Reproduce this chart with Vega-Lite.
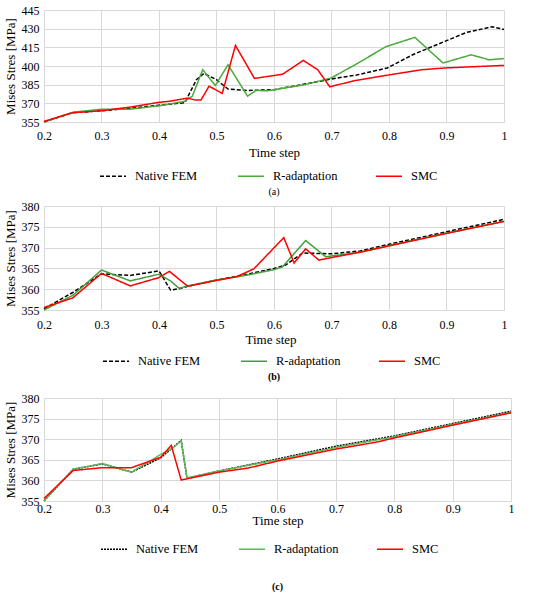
{
  "$schema": "https://vega.github.io/schema/vega-lite/v6.json",
  "description": "Mises stress over time step for Native FEM, R-adaptation and SMC, three cases (a), (b), (c)",
  "padding": {"top": 4, "left": 4, "right": 30, "bottom": 0},
  "background": "white",
  "datasets": {
    "a": [
      {"series": "Native FEM", "t": 0.2, "stress": 355},
      {"series": "Native FEM", "t": 0.25, "stress": 362.5},
      {"series": "Native FEM", "t": 0.3, "stress": 364},
      {"series": "Native FEM", "t": 0.35, "stress": 366},
      {"series": "Native FEM", "t": 0.4, "stress": 368.5},
      {"series": "Native FEM", "t": 0.445, "stress": 370.5},
      {"series": "Native FEM", "t": 0.465, "stress": 389},
      {"series": "Native FEM", "t": 0.478, "stress": 394},
      {"series": "Native FEM", "t": 0.5, "stress": 389},
      {"series": "Native FEM", "t": 0.52, "stress": 381.5},
      {"series": "Native FEM", "t": 0.555, "stress": 380.3},
      {"series": "Native FEM", "t": 0.6, "stress": 381},
      {"series": "Native FEM", "t": 0.643, "stress": 384.5},
      {"series": "Native FEM", "t": 0.7, "stress": 389.6},
      {"series": "Native FEM", "t": 0.744, "stress": 392.8},
      {"series": "Native FEM", "t": 0.797, "stress": 398.4},
      {"series": "Native FEM", "t": 0.841, "stress": 409},
      {"series": "Native FEM", "t": 0.896, "stress": 419.6},
      {"series": "Native FEM", "t": 0.935, "stress": 427},
      {"series": "Native FEM", "t": 0.979, "stress": 431.5},
      {"series": "Native FEM", "t": 1.0, "stress": 429.4},
      {"series": "R-adaptation", "t": 0.2, "stress": 355},
      {"series": "R-adaptation", "t": 0.25, "stress": 362.8},
      {"series": "R-adaptation", "t": 0.3, "stress": 365.3},
      {"series": "R-adaptation", "t": 0.35, "stress": 365.3},
      {"series": "R-adaptation", "t": 0.4, "stress": 368},
      {"series": "R-adaptation", "t": 0.444, "stress": 371.5},
      {"series": "R-adaptation", "t": 0.458, "stress": 375.8},
      {"series": "R-adaptation", "t": 0.476, "stress": 397},
      {"series": "R-adaptation", "t": 0.498, "stress": 384.3},
      {"series": "R-adaptation", "t": 0.52, "stress": 401},
      {"series": "R-adaptation", "t": 0.554, "stress": 375.8},
      {"series": "R-adaptation", "t": 0.569, "stress": 380.4},
      {"series": "R-adaptation", "t": 0.588, "stress": 380},
      {"series": "R-adaptation", "t": 0.61, "stress": 381.7},
      {"series": "R-adaptation", "t": 0.654, "stress": 385},
      {"series": "R-adaptation", "t": 0.7, "stress": 390.5},
      {"series": "R-adaptation", "t": 0.741, "stress": 401},
      {"series": "R-adaptation", "t": 0.795, "stress": 415.6},
      {"series": "R-adaptation", "t": 0.845, "stress": 423},
      {"series": "R-adaptation", "t": 0.894, "stress": 402.4},
      {"series": "R-adaptation", "t": 0.943, "stress": 409},
      {"series": "R-adaptation", "t": 0.974, "stress": 405},
      {"series": "R-adaptation", "t": 1.0, "stress": 406},
      {"series": "SMC", "t": 0.2, "stress": 355.5},
      {"series": "SMC", "t": 0.25, "stress": 362.5},
      {"series": "SMC", "t": 0.3, "stress": 364},
      {"series": "SMC", "t": 0.35, "stress": 367},
      {"series": "SMC", "t": 0.4, "stress": 370.8},
      {"series": "SMC", "t": 0.417, "stress": 371.6},
      {"series": "SMC", "t": 0.45, "stress": 374.2},
      {"series": "SMC", "t": 0.463, "stress": 372.6},
      {"series": "SMC", "t": 0.473, "stress": 372.6},
      {"series": "SMC", "t": 0.487, "stress": 383.8},
      {"series": "SMC", "t": 0.51, "stress": 378},
      {"series": "SMC", "t": 0.533, "stress": 416.5},
      {"series": "SMC", "t": 0.566, "stress": 390},
      {"series": "SMC", "t": 0.615, "stress": 393.4},
      {"series": "SMC", "t": 0.651, "stress": 404.5},
      {"series": "SMC", "t": 0.676, "stress": 397},
      {"series": "SMC", "t": 0.697, "stress": 383.3},
      {"series": "SMC", "t": 0.741, "stress": 388.3},
      {"series": "SMC", "t": 0.802, "stress": 393},
      {"series": "SMC", "t": 0.857, "stress": 397},
      {"series": "SMC", "t": 0.896, "stress": 398.4},
      {"series": "SMC", "t": 1.0, "stress": 400.5}
    ],
    "b": [
      {"series": "Native FEM", "t": 0.2, "stress": 355.3},
      {"series": "Native FEM", "t": 0.25, "stress": 359.2},
      {"series": "Native FEM", "t": 0.3, "stress": 363.7},
      {"series": "Native FEM", "t": 0.35, "stress": 363.3},
      {"series": "Native FEM", "t": 0.4, "stress": 364.4},
      {"series": "Native FEM", "t": 0.42, "stress": 359.8},
      {"series": "Native FEM", "t": 0.435, "stress": 360.1},
      {"series": "Native FEM", "t": 0.45, "stress": 360.7},
      {"series": "Native FEM", "t": 0.5, "stress": 362.2},
      {"series": "Native FEM", "t": 0.55, "stress": 363.5},
      {"series": "Native FEM", "t": 0.6, "stress": 365},
      {"series": "Native FEM", "t": 0.62, "stress": 365.8},
      {"series": "Native FEM", "t": 0.65, "stress": 368.7},
      {"series": "Native FEM", "t": 0.7, "stress": 368.5},
      {"series": "Native FEM", "t": 0.75, "stress": 369.2},
      {"series": "Native FEM", "t": 0.8, "stress": 370.8},
      {"series": "Native FEM", "t": 0.9, "stress": 373.8},
      {"series": "Native FEM", "t": 1.0, "stress": 376.8},
      {"series": "R-adaptation", "t": 0.2, "stress": 355},
      {"series": "R-adaptation", "t": 0.25, "stress": 358.5},
      {"series": "R-adaptation", "t": 0.3, "stress": 364.6},
      {"series": "R-adaptation", "t": 0.35, "stress": 362},
      {"series": "R-adaptation", "t": 0.4, "stress": 363.6},
      {"series": "R-adaptation", "t": 0.42, "stress": 362},
      {"series": "R-adaptation", "t": 0.435, "stress": 360.2},
      {"series": "R-adaptation", "t": 0.45, "stress": 360.8},
      {"series": "R-adaptation", "t": 0.5, "stress": 362.2},
      {"series": "R-adaptation", "t": 0.55, "stress": 363.3},
      {"series": "R-adaptation", "t": 0.6, "stress": 364.7},
      {"series": "R-adaptation", "t": 0.615, "stress": 365.4},
      {"series": "R-adaptation", "t": 0.655, "stress": 371.7},
      {"series": "R-adaptation", "t": 0.69, "stress": 367.8},
      {"series": "R-adaptation", "t": 0.75, "stress": 368.9},
      {"series": "R-adaptation", "t": 0.8, "stress": 370.5},
      {"series": "R-adaptation", "t": 0.9, "stress": 373.5},
      {"series": "R-adaptation", "t": 1.0, "stress": 376.3},
      {"series": "SMC", "t": 0.2, "stress": 355.6},
      {"series": "SMC", "t": 0.25, "stress": 357.9},
      {"series": "SMC", "t": 0.3, "stress": 363.8},
      {"series": "SMC", "t": 0.35, "stress": 360.8},
      {"series": "SMC", "t": 0.4, "stress": 362.8},
      {"series": "SMC", "t": 0.418, "stress": 364.3},
      {"series": "SMC", "t": 0.45, "stress": 360.7},
      {"series": "SMC", "t": 0.5, "stress": 362.1},
      {"series": "SMC", "t": 0.535, "stress": 363},
      {"series": "SMC", "t": 0.565, "stress": 364.9},
      {"series": "SMC", "t": 0.617, "stress": 372.4},
      {"series": "SMC", "t": 0.635, "stress": 366.3},
      {"series": "SMC", "t": 0.655, "stress": 369.7},
      {"series": "SMC", "t": 0.678, "stress": 367},
      {"series": "SMC", "t": 0.7, "stress": 367.6},
      {"series": "SMC", "t": 0.75, "stress": 368.9},
      {"series": "SMC", "t": 0.8, "stress": 370.4},
      {"series": "SMC", "t": 0.9, "stress": 373.4},
      {"series": "SMC", "t": 1.0, "stress": 376.3}
    ],
    "c": [
      {"series": "Native FEM", "t": 0.2, "stress": 355},
      {"series": "Native FEM", "t": 0.25, "stress": 362.7},
      {"series": "Native FEM", "t": 0.3, "stress": 364},
      {"series": "Native FEM", "t": 0.35, "stress": 362},
      {"series": "Native FEM", "t": 0.4, "stress": 365.5},
      {"series": "Native FEM", "t": 0.435, "stress": 369.7},
      {"series": "Native FEM", "t": 0.445, "stress": 360.5},
      {"series": "Native FEM", "t": 0.5, "stress": 362.3},
      {"series": "Native FEM", "t": 0.6, "stress": 365.2},
      {"series": "Native FEM", "t": 0.7, "stress": 368.3},
      {"series": "Native FEM", "t": 0.8, "stress": 370.8},
      {"series": "Native FEM", "t": 0.9, "stress": 373.8},
      {"series": "Native FEM", "t": 1.0, "stress": 376.8},
      {"series": "R-adaptation", "t": 0.2, "stress": 355},
      {"series": "R-adaptation", "t": 0.25, "stress": 362.7},
      {"series": "R-adaptation", "t": 0.3, "stress": 364.1},
      {"series": "R-adaptation", "t": 0.35, "stress": 362},
      {"series": "R-adaptation", "t": 0.4, "stress": 366.3},
      {"series": "R-adaptation", "t": 0.42, "stress": 367.8},
      {"series": "R-adaptation", "t": 0.435, "stress": 369.6},
      {"series": "R-adaptation", "t": 0.445, "stress": 360.6},
      {"series": "R-adaptation", "t": 0.5, "stress": 362.3},
      {"series": "R-adaptation", "t": 0.6, "stress": 365},
      {"series": "R-adaptation", "t": 0.7, "stress": 368},
      {"series": "R-adaptation", "t": 0.8, "stress": 370.6},
      {"series": "R-adaptation", "t": 0.9, "stress": 373.6},
      {"series": "R-adaptation", "t": 1.0, "stress": 376.5},
      {"series": "SMC", "t": 0.2, "stress": 355.6},
      {"series": "SMC", "t": 0.25, "stress": 362.4},
      {"series": "SMC", "t": 0.3, "stress": 363.1},
      {"series": "SMC", "t": 0.35, "stress": 363.1},
      {"series": "SMC", "t": 0.4, "stress": 365.6},
      {"series": "SMC", "t": 0.418, "stress": 368.5},
      {"series": "SMC", "t": 0.435, "stress": 360.1},
      {"series": "SMC", "t": 0.5, "stress": 362},
      {"series": "SMC", "t": 0.55, "stress": 363},
      {"series": "SMC", "t": 0.6, "stress": 364.7},
      {"series": "SMC", "t": 0.7, "stress": 367.6},
      {"series": "SMC", "t": 0.77, "stress": 369.3},
      {"series": "SMC", "t": 0.8, "stress": 370.3},
      {"series": "SMC", "t": 0.9, "stress": 373.4},
      {"series": "SMC", "t": 1.0, "stress": 376.4}
    ]
  },
  "spacing": 3,
  "resolve": {
    "scale": {"color": "independent", "strokeDash": "independent", "x": "independent", "y": "independent"},
    "legend": {"color": "independent", "strokeDash": "independent"}
  },
  "vconcat": [
    {
      "data": {"name": "a"},
      "width": 460,
      "height": 112,
      "title": {"text": "(a)", "orient": "bottom", "fontWeight": "normal", "offset": 4},
      "mark": {"type": "line", "strokeWidth": 1.5},
      "encoding": {
        "x": {
          "field": "t", "type": "quantitative", "title": "Time step",
          "scale": {"domain": [0.2, 1], "nice": false},
          "axis": {"values": [0.2, 0.3, 0.4, 0.5, 0.6, 0.7, 0.8, 0.9, 1], "format": "~g", "labelPadding": 8, "titleY": 30, "titleBaseline": "middle"}
        },
        "y": {
          "field": "stress", "type": "quantitative", "title": "Mises Stres [MPa]",
          "scale": {"domain": [355, 445], "nice": false, "zero": false},
          "axis": {"values": [355, 370, 385, 400, 415, 430, 445]}
        },
        "color": {
          "field": "series", "type": "nominal", "title": null,
          "scale": {"domain": ["Native FEM", "R-adaptation", "SMC"], "range": ["#000000", "#4aaa3a", "#ff0000"]},
          "legend": {"orient": "none", "legendX": 55, "legendY": 152}
        },
        "strokeDash": {
          "field": "series", "type": "nominal", "title": null,
          "scale": {"domain": ["Native FEM", "R-adaptation", "SMC"], "range": [[4, 2], [1, 0], [1, 0]]},
          "legend": {"orient": "none", "legendX": 55, "legendY": 152}
        }
      }
    },
    {
      "data": {"name": "b"},
      "width": 460,
      "height": 104,
      "title": {"text": "(b)", "subtitle": " ", "subtitleFontSize": 7, "subtitlePadding": 0, "orient": "bottom", "fontWeight": "bold", "offset": 4},
      "mark": {"type": "line", "strokeWidth": 1.5},
      "encoding": {
        "x": {
          "field": "t", "type": "quantitative", "title": null,
          "scale": {"domain": [0.2, 1], "nice": false},
          "axis": {"values": [0.2, 0.3, 0.4, 0.5, 0.6, 0.7, 0.8, 0.9, 1], "format": "~g", "labelPadding": 9}
        },
        "y": {
          "field": "stress", "type": "quantitative", "title": "Mises Stres [MPa]",
          "scale": {"domain": [355, 380], "nice": false, "zero": false},
          "axis": {"values": [355, 360, 365, 370, 375, 380]}
        },
        "color": {
          "field": "series", "type": "nominal", "title": "Time step",
          "scale": {"domain": ["Native FEM", "R-adaptation", "SMC"], "range": ["#000000", "#3da13a", "#ff0000"]},
          "legend": {"orient": "none", "legendX": 58, "legendY": 128, "titleOrient": "top", "titleAnchor": "middle", "titleFontSize": 13, "titleFontWeight": "normal", "titleFont": "Liberation Serif", "titleColor": "#000000", "titlePadding": 0}
        },
        "strokeDash": {
          "field": "series", "type": "nominal", "title": "Time step",
          "scale": {"domain": ["Native FEM", "R-adaptation", "SMC"], "range": [[4, 2], [1, 0], [1, 0]]},
          "legend": {"orient": "none", "legendX": 58, "legendY": 128, "titleOrient": "top", "titleAnchor": "middle", "titleFontSize": 13, "titleFontWeight": "normal", "titleFont": "Liberation Serif", "titleColor": "#000000", "titlePadding": 0}
        }
      }
    },
    {
      "data": {"name": "c"},
      "width": 467,
      "height": 103,
      "title": {"text": "(c)", "orient": "bottom", "fontWeight": "bold", "offset": 26},
      "mark": {"type": "line", "strokeWidth": 1.5},
      "encoding": {
        "x": {
          "field": "t", "type": "quantitative", "title": "Time step",
          "scale": {"domain": [0.2, 1], "nice": false},
          "axis": {"values": [0.2, 0.3, 0.4, 0.5, 0.6, 0.7, 0.8, 0.9, 1], "format": "~g", "labelPadding": 2, "titleY": 19.5, "titleBaseline": "middle"}
        },
        "y": {
          "field": "stress", "type": "quantitative", "title": "Mises Stres [MPa]",
          "scale": {"domain": [355, 380], "nice": false, "zero": false},
          "axis": {"values": [355, 360, 365, 370, 375, 380]}
        },
        "color": {
          "field": "series", "type": "nominal", "title": null,
          "scale": {"domain": ["Native FEM", "R-adaptation", "SMC"], "range": ["#000000", "#5cb85c", "#ff0000"]},
          "legend": {"orient": "none", "legendX": 56, "legendY": 137}
        },
        "strokeDash": {
          "field": "series", "type": "nominal", "title": null,
          "scale": {"domain": ["Native FEM", "R-adaptation", "SMC"], "range": [[2, 1], [1, 0], [1, 0]]},
          "legend": {"orient": "none", "legendX": 56, "legendY": 137}
        }
      }
    }
  ],
  "config": {
    "font": "Liberation Serif",
    "view": {"stroke": null},
    "axis": {
      "grid": true,
      "gridColor": "#d9d9d9",
      "gridWidth": 1,
      "domainColor": "#d9d9d9",
      "ticks": false,
      "labelFont": "Liberation Serif",
      "labelFontSize": 12,
      "labelColor": "#000000",
      "labelPadding": 4,
      "titleFont": "Liberation Serif",
      "titleFontSize": 13,
      "titleFontWeight": "normal",
      "titleColor": "#000000"
    },
    "axisX": {"labelFlush": false},
    "axisY": {"titlePadding": 4, "labelFlush": false, "labelPadding": 5},
    "legend": {
      "direction": "horizontal",
      "symbolType": "stroke",
      "symbolSize": 676,
      "symbolStrokeWidth": 1.6,
      "labelFont": "Liberation Serif",
      "labelFontSize": 12.5,
      "labelColor": "#000000",
      "labelOffset": 8,
      "columnPadding": 34,
      "gridAlign": "all"
    },
    "title": {"font": "Liberation Serif", "fontSize": 10, "color": "#000000", "anchor": "middle"}
  }
}
